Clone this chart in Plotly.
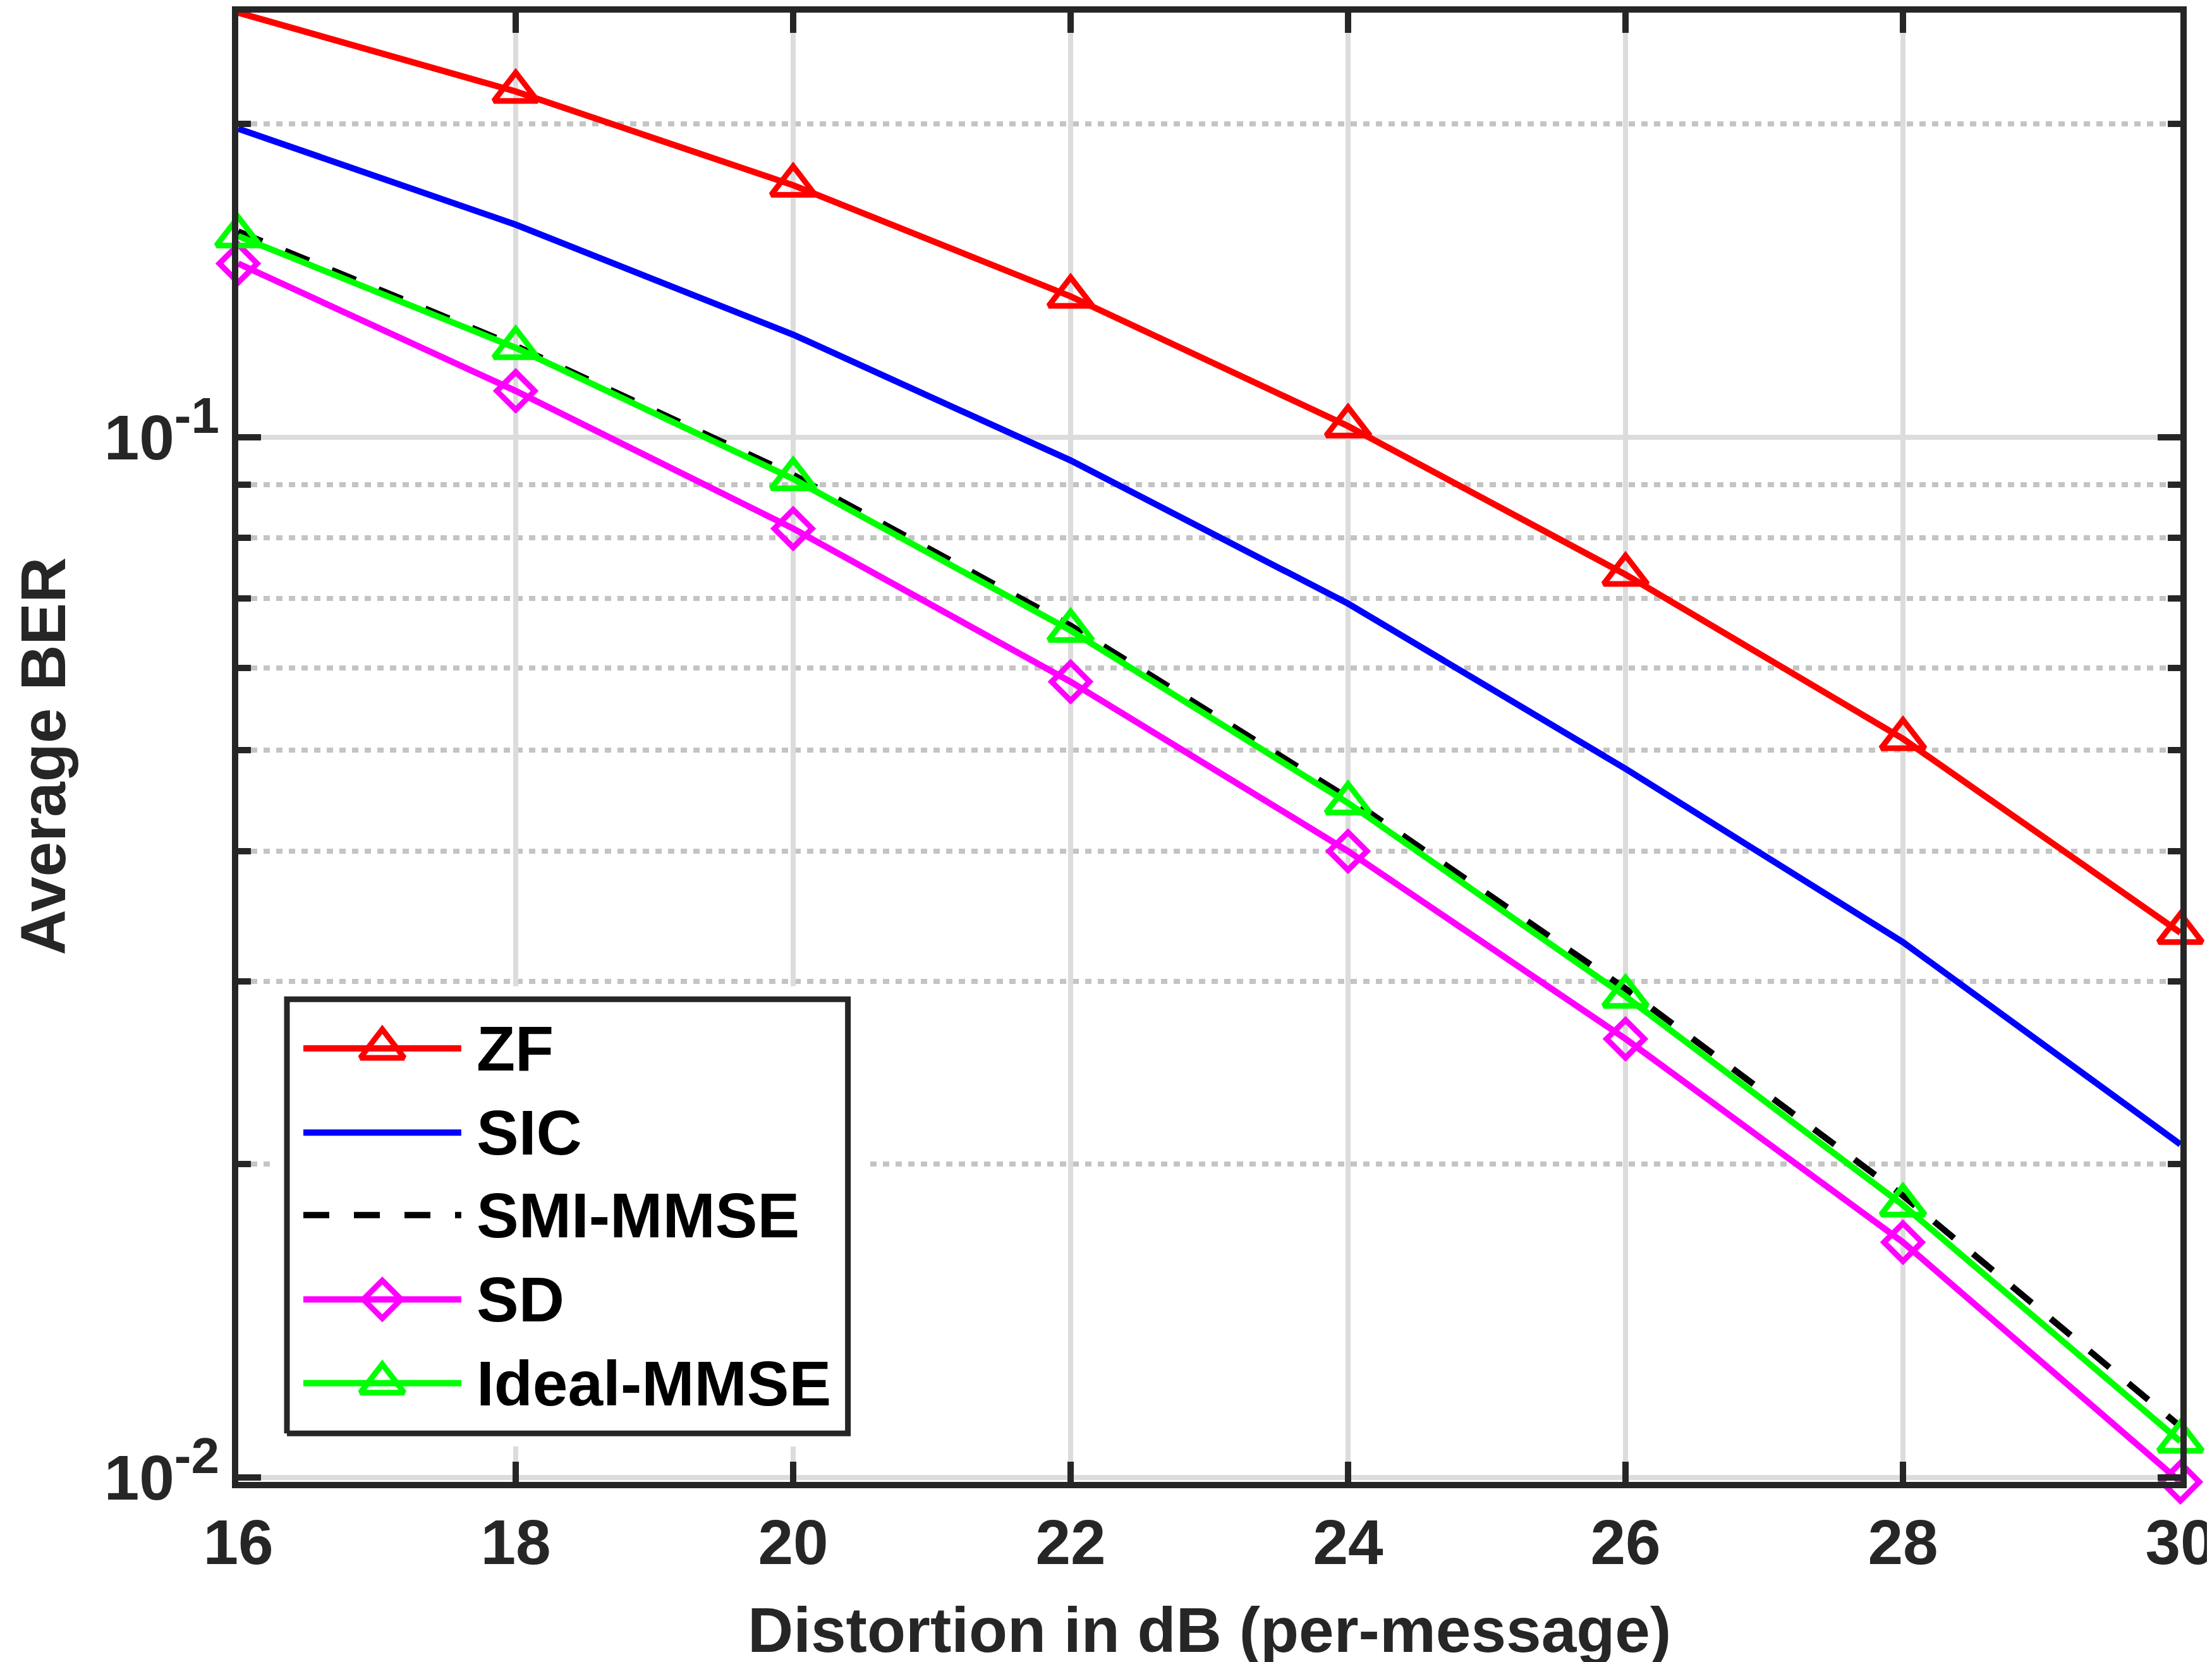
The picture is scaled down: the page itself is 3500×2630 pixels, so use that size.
import numpy as np
import plotly.graph_objects as go

# Average BER against distortion
distortion_db = [16, 18, 20, 22, 24, 26, 28, 30]
ber_zf = [0.256, 0.215, 0.1747, 0.1366, 0.1025, 0.0738, 0.0513, 0.0334]
ber_sic = [0.198, 0.1601, 0.1255, 0.0950, 0.0692, 0.0480, 0.0327, 0.0209]
ber_smi_mmse = [0.1577, 0.1224, 0.0920, 0.0659, 0.0450, 0.0295, 0.01866, 0.01119]
ber_sd = [0.1469, 0.1108, 0.0817, 0.0582, 0.0400, 0.0264, 0.01683, 0.0099]
ber_ideal_mmse = [0.1561, 0.1219, 0.0912, 0.0652, 0.0445, 0.0290, 0.01827, 0.01083]

series_names = ["ZF", "SIC", "SMI-MMSE", "SD", "Ideal-MMSE"]
series_values = [ber_zf, ber_sic, ber_smi_mmse, ber_sd, ber_ideal_mmse]

x_ticks = [16, 18, 20, 22, 24, 26, 28, 30]
y_major_ticks = [0.01, 0.1]
y_major_labels = ["10<sup><span style='font-size:80px'>-2</span></sup>",
                  "10<sup><span style='font-size:80px'>-1</span></sup>"]
y_minor_ticks = [0.02, 0.03, 0.04, 0.05, 0.06, 0.07, 0.08, 0.09, 0.2]

# line / marker style per series (MATLAB look)
styles = {
    "ZF": dict(color="#ff0000", dash="solid", symbol="triangle-up-open", size=60),
    "SIC": dict(color="#0000ff", dash="solid", symbol=None, size=0),
    "SMI-MMSE": dict(color="#000000", dash="41px,39px", symbol=None, size=0),
    "SD": dict(color="#ff00ff", dash="solid", symbol="diamond-open", size=46),
    "Ideal-MMSE": dict(color="#00ff00", dash="solid", symbol="triangle-up-open", size=60),
}

AXIS_COLOR = "#262626"
FONT = "Liberation Sans"
LINE_W = 10
MARKER_LW = 9

fig = go.Figure()

for name, vals in zip(series_names, series_values):
    st = styles[name]
    mode = "lines+markers" if st["symbol"] else "lines"
    fig.add_trace(go.Scatter(
        x=distortion_db, y=vals, name=name, mode=mode,
        line=dict(color=st["color"], width=LINE_W, dash=st["dash"]),
        marker=dict(symbol=st["symbol"] or "circle", size=st["size"],
                    color=st["color"], line=dict(width=MARKER_LW, color=st["color"])),
        cliponaxis=False, showlegend=False,
    ))

# hand-made legend box in the lower left, drawn on its own small axes
box_x = [0.02505, 0.3139]
box_y = [0.033, 0.3285]
rows = [0.887, 0.6928, 0.5029, 0.3087, 0.1159]
pad = 0.03  # keeps the frame line from being clipped by the legend axes
dom_x = [box_x[0] - pad * (box_x[1] - box_x[0]), box_x[1] + pad * (box_x[1] - box_x[0])]
dom_y = [box_y[0] - pad * (box_y[1] - box_y[0]), box_y[1] + pad * (box_y[1] - box_y[0])]

fig.add_trace(go.Scatter(
    x=[0, 1, 1, 0, 0], y=[0, 0, 1, 1, 0], mode="lines", xaxis="x2", yaxis="y2",
    fill="toself", fillcolor="white", line=dict(color=AXIS_COLOR, width=9),
    showlegend=False, hoverinfo="skip",
))
for name, row in zip(series_names, rows):
    st = styles[name]
    fig.add_trace(go.Scatter(
        x=[0.0293, 0.3108], y=[row, row], mode="lines", xaxis="x2", yaxis="y2",
        line=dict(color=st["color"], width=LINE_W, dash=st["dash"]),
        showlegend=False, hoverinfo="skip",
    ))
    if st["symbol"]:
        fig.add_trace(go.Scatter(
            x=[0.17], y=[row], mode="markers", xaxis="x2", yaxis="y2",
            marker=dict(symbol=st["symbol"], size=st["size"], color=st["color"],
                        line=dict(width=MARKER_LW, color=st["color"])),
            showlegend=False, hoverinfo="skip", cliponaxis=False,
        ))
    fig.add_annotation(
        x=0.3356, y=row, xref="x2", yref="y2", text=name, showarrow=False,
        xanchor="left", yanchor="middle",
        font=dict(family=FONT, size=100, weight="bold", color="#000000"),
    )

all_vals = np.concatenate([np.array(v) for v in series_values])
y_range = [np.log10(all_vals.min()), np.log10(all_vals.max())]

tick_font = dict(family=FONT, size=100, weight="bold", color=AXIS_COLOR)

fig.update_layout(
    width=3500, height=2630,
    margin=dict(l=369, r=57, t=2, b=293),
    paper_bgcolor="white", plot_bgcolor="white",
    xaxis=dict(
        range=[16, 30], tickvals=x_ticks, ticks="inside", ticklen=32,
        tickwidth=LINE_W, tickcolor=AXIS_COLOR, showline=True, linewidth=LINE_W,
        linecolor=AXIS_COLOR, mirror="ticks", showgrid=True, gridcolor="#dcdcdc",
        gridwidth=8, zeroline=False, tickfont=tick_font,
    ),
    yaxis=dict(
        type="log", range=y_range, tickvals=y_major_ticks, ticktext=y_major_labels,
        ticks="inside", ticklen=36, tickwidth=LINE_W, tickcolor=AXIS_COLOR,
        showline=True, linewidth=LINE_W, linecolor=AXIS_COLOR, mirror="ticks",
        showgrid=True, gridcolor="#dcdcdc", gridwidth=8, tickfont=tick_font,
        minor=dict(tickmode="array", tickvals=y_minor_ticks, ticks="inside",
                   ticklen=20, tickwidth=LINE_W, tickcolor=AXIS_COLOR,
                   showgrid=True, gridcolor="#c4c4c4", gridwidth=8,
                   griddash="10px,10px"),
    ),
    xaxis2=dict(domain=dom_x, range=[-pad, 1 + pad], visible=False, anchor="y2"),
    yaxis2=dict(domain=dom_y, range=[-pad, 1 + pad], visible=False, anchor="x2"),
)

fig.add_annotation(
    x=0.5, y=-0.1006, xref="paper", yref="paper", showarrow=False,
    text="Distortion in dB (per-message)", xanchor="center", yanchor="middle",
    font=dict(family=FONT, size=100, weight="bold", color=AXIS_COLOR),
)
fig.add_annotation(
    x=-0.1005, y=0.494, xref="paper", yref="paper", showarrow=False,
    text="Average BER", textangle=-90, xanchor="center", yanchor="middle",
    font=dict(family=FONT, size=100, weight="bold", color=AXIS_COLOR),
)

fig.write_html("out.html")
